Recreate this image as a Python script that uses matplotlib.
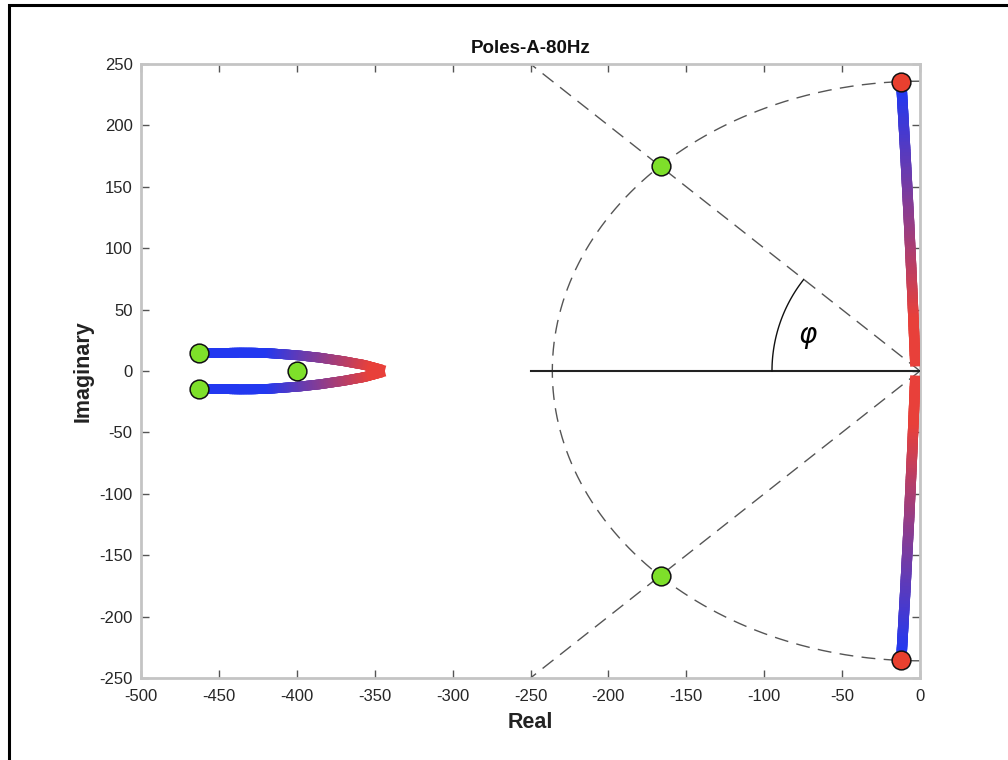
import numpy as np
import matplotlib
matplotlib.use("Agg")
import matplotlib.pyplot as plt
from matplotlib.colors import to_rgb
from matplotlib.patches import Rectangle

plt.rcParams['font.family'] = ['Liberation Sans', 'DejaVu Sans']
plt.rcParams['axes.unicode_minus'] = False

# ---- data ----
title = "Poles-A-80Hz"
xlabel = "Real"
ylabel = "Imaginary"
xticks = [-500, -450, -400, -350, -300, -250, -200, -150, -100, -50, 0]
yticks = [-250, -200, -150, -100, -50, 0, 50, 100, 150, 200, 250]

# left pole-pair locus (upper branch; lower is mirrored)
left_x = [-463, -440, -428, -418, -408, -398, -385, -370, -357, -345]
left_y = [15, 15, 14.9, 14.5, 13.6, 12.6, 10.8, 8, 5, 1.0]
# right pole-pair locus (upper branch; lower is mirrored)
right_x = [-12, -9.5, -7, -4.8, -3.0]
right_y = [235, 180, 120, 60, 5]

green_x = [-463, -463, -400, -166, -166]
green_y = [15, -15, 0, 167, -167]
red_x = [-12, -12]
red_y = [235, -235]

arc_radius = 236
ray_end = 250
phi_rx, phi_ry = 95, 120.5

BLUE = np.array(to_rgb('#2238f0'))
RED = np.array(to_rgb('#e8403a'))
GREEN = '#7ee02a'
REDM = '#e8402f'

fig = plt.figure(figsize=(10.08, 7.6), dpi=100)
ax = fig.add_axes([141/1008, 1-678/760, (920-141)/1008, (678-64)/760])


def gradient_line(xs, ys, lw, t0=0.0, t1=1.0):
    xs = np.asarray(xs, float)
    ys = np.asarray(ys, float)
    d = np.r_[0, np.cumsum(np.hypot(np.diff(xs), np.diff(ys) * 1.3))]
    s = np.linspace(0, d[-1], 80)
    px = np.interp(s, d, xs)
    py = np.interp(s, d, ys)
    u = 0.5 * (s[:-1] + s[1:]) / d[-1]
    t = np.clip((u - t0) / (t1 - t0), 0, 1)
    cols = BLUE[None, :] * (1 - t[:, None]) + RED[None, :] * t[:, None]
    for i in range(len(px) - 1):
        ax.plot(px[i:i + 2], py[i:i + 2], color=cols[i], lw=lw,
                solid_capstyle='butt' if i in (0, len(px) - 2) else 'projecting',
                zorder=4)


# dashed rays and arc
ax.plot([0, -ray_end], [0, ray_end], color='#555555', lw=1.0, dashes=(10, 6), zorder=2)
ax.plot([0, -ray_end], [0, -ray_end], color='#555555', lw=1.0, dashes=(10, 6), zorder=2)
th = np.linspace(np.pi / 2, 3 * np.pi / 2, 400)
ax.plot(arc_radius * np.cos(th), arc_radius * np.sin(th), color='#555555',
        lw=1.0, dashes=(10, 6), zorder=2)

# real axis segment
ax.plot([-250, 0], [0, 0], color='#222222', lw=1.5, zorder=3)

# phi arc
s_end = np.arctan(phi_rx / phi_ry)
ss = np.linspace(0, s_end, 100)
ax.plot(-phi_rx * np.cos(ss), phi_ry * np.sin(ss), color='#111111', lw=1.0, zorder=3)
ax.text(-72, 27, r'$\varphi$', fontsize=20, ha='center', va='center', zorder=5)

# loci
gradient_line(left_x, left_y, 7.0, 0.38, 0.95)
gradient_line(left_x, [-v for v in left_y], 7.0, 0.38, 0.95)
gradient_line(right_x, right_y, 7.5, 0.05, 0.85)
gradient_line(right_x, [-v for v in right_y], 7.5, 0.05, 0.85)

# markers
ax.plot(green_x, green_y, 'o', ms=13.5, mfc=GREEN, mec='#111111', mew=1.1, zorder=6)
ax.plot(red_x, red_y, 'o', ms=13.5, mfc=REDM, mec='#111111', mew=1.1, zorder=6)

ax.set_xlim(-500, 0)
ax.set_ylim(-250, 250)
ax.set_xticks(xticks)
ax.set_yticks(yticks)
ax.tick_params(direction='in', length=6, width=1.0, color='#555555',
               labelsize=12, labelcolor='#262626', top=True, right=True)
ax.tick_params(axis='x', pad=8)
ax.tick_params(axis='y', pad=6)
for sp in ax.spines.values():
    sp.set_color('#c4c4c4')
    sp.set_linewidth(2.0)

ax.set_title(title, fontsize=13.5, fontweight='bold', pad=8, color='#111111')
ax.set_xlabel(xlabel, fontsize=15.5, fontweight='bold', labelpad=6, color='#222222')
ax.set_ylabel(ylabel, fontsize=15.5, fontweight='bold', labelpad=4, color='#222222')

# figure frame
fig.patches.append(Rectangle((9/1008, -0.2), 1.2, 1.2 - 5/760,
                             transform=fig.transFigure, fill=False,
                             edgecolor='black', lw=2.2, clip_on=False))

fig.savefig('out.png', dpi=100)
